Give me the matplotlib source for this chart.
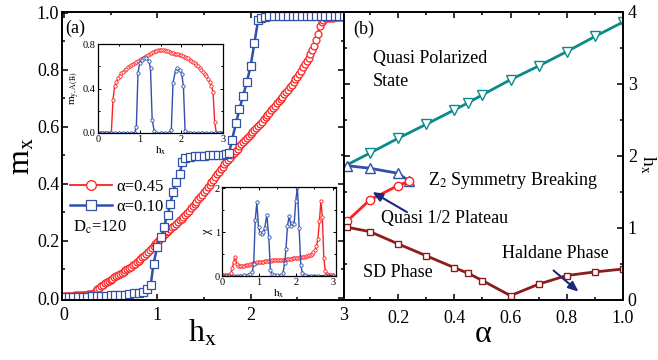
import numpy as np
import matplotlib
matplotlib.use("Agg")
import matplotlib.pyplot as plt
from matplotlib.ticker import MultipleLocator, FormatStrFormatter

plt.rcParams['font.family'] = ['Liberation Serif', 'DejaVu Serif']
plt.rcParams['mathtext.fontset'] = 'stix'

# ---------------- data: panel (a) main ----------------
h_red = np.round(np.arange(0, 3.0001, 0.02), 2)
m_red = [0.006, 0.006, 0.007, 0.007, 0.008, 0.008, 0.009, 0.009, 0.010, 0.010, 0.011, 0.011, 0.012, 0.013, 0.014, 0.015,
         0.017, 0.024, 0.031, 0.036, 0.041, 0.046, 0.051, 0.056, 0.060, 0.064,
         0.068, 0.072, 0.076, 0.080, 0.084, 0.088, 0.092, 0.097, 0.101, 0.105,
         0.110, 0.115, 0.120, 0.125, 0.130, 0.136, 0.142, 0.148, 0.154, 0.160,
         0.167, 0.174, 0.181, 0.188, 0.195, 0.202, 0.209, 0.216, 0.223, 0.230,
         0.236, 0.242, 0.248, 0.254, 0.260, 0.266, 0.272, 0.278, 0.284, 0.290,
         0.298, 0.306, 0.314, 0.322, 0.330, 0.338, 0.346, 0.354, 0.362, 0.370,
         0.379, 0.388, 0.397, 0.406, 0.415, 0.424, 0.433, 0.442, 0.451, 0.460,
         0.468, 0.476, 0.484, 0.492, 0.500, 0.508, 0.516, 0.524, 0.532, 0.540,
         0.547, 0.554, 0.561, 0.568, 0.575, 0.582, 0.589, 0.596, 0.603, 0.610,
         0.618, 0.626, 0.634, 0.642, 0.650, 0.658, 0.666, 0.674, 0.682, 0.690,
         0.698, 0.706, 0.714, 0.722, 0.730, 0.739, 0.748, 0.757, 0.766, 0.775,
         0.786, 0.797, 0.808, 0.819, 0.830, 0.842, 0.854, 0.868, 0.884, 0.905,
         0.927, 0.952, 0.968, 0.976, 0.980, 0.981, 0.982, 0.983, 0.983, 0.984,
         0.984, 0.985, 0.985, 0.985, 0.986]

h_blue = [0.00, 0.05, 0.10, 0.15, 0.20, 0.25, 0.30, 0.35, 0.40, 0.45, 0.50, 0.55, 0.60, 0.65, 0.70, 0.75, 0.80, 0.85,
          0.89, 0.93, 0.96, 1.00, 1.04, 1.07, 1.11, 1.14, 1.17, 1.20, 1.24, 1.27, 1.30,
          1.35, 1.40, 1.45, 1.50, 1.55, 1.60, 1.65, 1.70, 1.74, 1.77,
          1.80, 1.845, 1.88, 1.92, 1.96, 2.00, 2.04, 2.08, 2.11, 2.15,
          2.20, 2.25, 2.30, 2.35, 2.40, 2.45, 2.50, 2.55, 2.60, 2.65, 2.70, 2.75, 2.80, 2.85, 2.90, 2.95, 3.00]
m_blue = [0.003, 0.003, 0.004, 0.004, 0.005, 0.005, 0.006, 0.006, 0.007, 0.008, 0.009, 0.010, 0.011, 0.012, 0.014, 0.016, 0.019, 0.022,
          0.030, 0.046, 0.120, 0.180, 0.215, 0.250, 0.290, 0.330, 0.373, 0.405, 0.435, 0.478, 0.492,
          0.495, 0.497, 0.498, 0.499, 0.500, 0.501, 0.502, 0.503, 0.504, 0.507,
          0.554, 0.614, 0.662, 0.709, 0.758, 0.813, 0.893, 0.974, 0.983, 0.986,
          0.987, 0.987, 0.988, 0.988, 0.988, 0.989, 0.989, 0.989, 0.989, 0.990, 0.990, 0.990, 0.990, 0.990, 0.990, 0.990, 0.990]

# ---------------- data: insets ----------------
h_ins = np.round(np.arange(0, 3.0001, 0.04), 2)
my_red = [0, 0, 0, 0, 0, 0, 0, 0, 0,
          0.30, 0.42, 0.46, 0.49, 0.515, 0.535, 0.55, 0.565, 0.575, 0.59,
          0.60, 0.61, 0.62, 0.63, 0.64, 0.648, 0.655, 0.665, 0.672, 0.68,
          0.69, 0.70, 0.71, 0.72, 0.728, 0.735, 0.74, 0.745, 0.748, 0.748,
          0.747, 0.745, 0.74, 0.733, 0.727, 0.72, 0.715, 0.712, 0.71, 0.707,
          0.703, 0.698, 0.692, 0.686, 0.678, 0.67, 0.66, 0.65, 0.638, 0.625,
          0.612, 0.598, 0.583, 0.567, 0.55, 0.532, 0.51, 0.487, 0.46, 0.425,
          0.37, 0.10,
          0, 0, 0, 0, 0]

h_my_blue = [0.0, 0.1, 0.2, 0.3, 0.4, 0.5, 0.6, 0.7, 0.8, 0.88, 0.92, 0.96, 1.00, 1.06, 1.11, 1.16, 1.22, 1.26, 1.30, 1.35,
             1.4, 1.5, 1.6, 1.7, 1.76, 1.80, 1.86, 1.90, 1.96, 2.01, 2.05, 2.09,
             2.15, 2.2, 2.3, 2.4, 2.5, 2.6, 2.7, 2.8, 2.9, 3.0]
my_blue = [0, 0, 0, 0, 0, 0, 0, 0, 0, 0.0, 0.05, 0.54, 0.63, 0.66, 0.67, 0.67, 0.65, 0.58, 0.12, 0.015,
           0, 0, 0, 0, 0.03, 0.45, 0.56, 0.58, 0.57, 0.53, 0.42, 0.015,
           0, 0, 0, 0, 0, 0, 0, 0, 0, 0]

chi_red = [0.02, 0.02, 0.02, 0.02, 0.02, 0.03, 0.06, 0.18, 0.33, 0.44,
           0.28, 0.23, 0.22, 0.225, 0.23, 0.235, 0.24, 0.25, 0.26, 0.27,
           0.28, 0.29, 0.30, 0.305, 0.31, 0.315, 0.32, 0.325, 0.33, 0.335,
           0.34, 0.345, 0.35, 0.352, 0.355, 0.36, 0.362, 0.365, 0.368, 0.37,
           0.37, 0.37, 0.372, 0.375, 0.38, 0.385, 0.39, 0.395, 0.40, 0.405,
           0.41, 0.415, 0.42, 0.425, 0.43, 0.435, 0.44, 0.45, 0.46, 0.475,
           0.49, 0.51, 0.54, 0.59, 0.68, 0.85, 1.25, 1.70, 1.35, 0.40,
           0.12, 0.05, 0.03, 0.02, 0.02, 0.02]

h_chi_blue = [0.0, 0.1, 0.2, 0.3, 0.4, 0.5, 0.6, 0.7, 0.77, 0.82, 0.86,
              0.90, 0.945, 0.99, 1.035, 1.08, 1.12, 1.16, 1.215, 1.27, 1.31, 1.35,
              1.4, 1.5, 1.6, 1.65, 1.70, 1.735, 1.775, 1.82, 1.87, 1.91, 1.955, 2.0, 2.045, 2.09, 2.135, 2.18,
              2.25, 2.4, 2.6, 2.8, 3.0]
chi_blue = [0.01, 0.01, 0.01, 0.01, 0.01, 0.01, 0.015, 0.02, 0.04, 0.1, 0.27,
            1.27, 1.68, 1.11, 0.97, 0.96, 1.0, 1.1, 1.39, 0.88, 0.14, 0.04,
            0.02, 0.015, 0.02, 0.06, 0.3, 0.62, 1.15, 1.36, 1.15, 1.22, 1.18, 1.72, 2.03, 1.1, 0.25, 0.06,
            0.02, 0.01, 0.01, 0.01, 0.01]

# ---------------- data: panel (b) ----------------
alpha_qp = [0.02, 0.1, 0.2, 0.3, 0.4, 0.45, 0.5, 0.6, 0.7, 0.8, 0.9, 1.0]
h_qp = [1.88, 2.04, 2.245, 2.44, 2.64, 2.74, 2.85, 3.06, 3.25, 3.45, 3.66, 3.86]
alpha_z2 = [0.02, 0.1, 0.2, 0.24]
h_z2_up = [1.865, 1.83, 1.76, 1.65]
h_z2_lo = [1.10, 1.39, 1.59, 1.65]
alpha_sd = [0.02, 0.1, 0.2, 0.3, 0.4, 0.45, 0.5, 0.6, 0.7, 0.8, 0.9, 1.0]
h_sd = [1.01, 0.95, 0.78, 0.615, 0.45, 0.37, 0.27, 0.06, 0.22, 0.34, 0.39, 0.43]

RED = '#ff2020'
BLUE = '#3050aa'
TEAL = '#0a8a8a'
MAROON = '#8e1b1b'
NAVY = '#1c2880'

fig = plt.figure(figsize=(6.58, 3.6), dpi=100)
W, H = 658.0, 360.0
ax1 = fig.add_axes([62 / W, 60 / H, 282 / W, 288 / H])
ax2 = fig.add_axes([344 / W, 60 / H, 279 / W, 288 / H])
ins1 = fig.add_axes([98 / W, (H - 133) / H, 125 / W, 89 / H])
ins2 = fig.add_axes([222 / W, (H - 276) / H, 114 / W, 89 / H])


def style(ax, lw=1.4, size=13, maj=4.5, mino=2.5, pad=2):
    for s in ax.spines.values():
        s.set_linewidth(lw)
    ax.tick_params(which='both', direction='in', top=True, right=True, width=lw * 0.8,
                   labelsize=size, pad=pad)
    ax.tick_params(which='major', length=maj)
    ax.tick_params(which='minor', length=mino)


# ---------------- panel (a) ----------------
ax1.plot(h_red, m_red, '-', color=RED, lw=1.3, marker='o', ms=5, mfc='white', mec=RED, mew=0.9,
         label='α=0.45')
ax1.plot(h_blue, m_blue, '-', color=BLUE, lw=1.8, marker='s', ms=5.3, mfc='white', mec=BLUE, mew=0.9,
         label='α=0.10')
ax1.set_xlim(-0.02, 3.0)
ax1.set_ylim(-0.007, 1.0025)
ax1.xaxis.set_major_locator(MultipleLocator(1))
ax1.xaxis.set_minor_locator(MultipleLocator(0.5))
ax1.yaxis.set_major_locator(MultipleLocator(0.2))
ax1.yaxis.set_minor_locator(MultipleLocator(0.1))
ax1.yaxis.set_major_formatter(FormatStrFormatter('%.1f'))
style(ax1)
ax1.tick_params(axis='x', pad=5)
ax1.set_xlabel(r'h$_{\rm x}$', fontsize=23, labelpad=-4)
ax1.set_ylabel(r'm$_{\rm x}$', fontsize=23, labelpad=0)
ax1.text(0.015, 0.945, '(a)', fontsize=13, va='center', ha='left')
leg = ax1.legend(loc='upper left', bbox_to_anchor=(0.03, 0.42), frameon=False, fontsize=12,
                 handlelength=2.5, handletextpad=0.25, labelspacing=0.25, borderpad=0,
                 borderaxespad=0, markerscale=1.4)
ax1.text(0.10, 0.249, r'D$_{\rm c}$=120', fontsize=12, va='center', ha='left')

# inset 1: m_y
ins1.plot(h_ins, my_red, '-', color=RED, lw=1.0, marker='o', ms=2.4, mfc='white', mec=RED, mew=0.6)
ins1.plot(h_my_blue, my_blue, '-', color=BLUE, lw=1.0, marker='o', ms=2.4, mfc='white', mec=BLUE, mew=0.6)
ins1.set_xlim(0, 3)
ins1.set_ylim(0, 0.8)
ins1.set_xticks([0, 1, 2, 3])
ins1.xaxis.set_minor_locator(MultipleLocator(0.5))
ins1.set_yticks([0, 0.4, 0.8])
ins1.yaxis.set_minor_locator(MultipleLocator(0.2))
ins1.yaxis.set_major_formatter(FormatStrFormatter('%.1f'))
style(ins1, lw=0.9, size=7.5, maj=2.5, mino=1.5, pad=1.5)
ins1.set_xlabel(r'h$_{\rm x}$', fontsize=8, labelpad=0)
ins1.set_ylabel(r'm$_{\rm y,A(B)}$', fontsize=8, labelpad=1)

# inset 2: chi
ins2.plot(h_ins, chi_red, '-', color=RED, lw=1.0, marker='o', ms=2.4, mfc='white', mec=RED, mew=0.6)
ins2.plot(h_chi_blue, chi_blue, '-', color=BLUE, lw=1.0, marker='o', ms=2.4, mfc='white', mec=BLUE, mew=0.6)
ins2.set_xlim(0, 3.09)
ins2.set_ylim(0, 2.03)
ins2.set_xticks([0, 1, 2, 3])
ins2.xaxis.set_minor_locator(MultipleLocator(0.5))
ins2.set_yticks([0, 1, 2])
ins2.yaxis.set_minor_locator(MultipleLocator(0.5))
style(ins2, lw=0.9, size=7.5, maj=2.5, mino=1.5, pad=1.5)
ins2.set_xlabel(r'h$_{\rm x}$', fontsize=8, labelpad=0)
ins2.set_ylabel('χ', fontsize=9, labelpad=1)

# ---------------- panel (b) ----------------
ax2.plot(alpha_qp, h_qp, '-', color=TEAL, lw=2.0, marker='v', ms=6.5, mfc='white', mec=TEAL, mew=1.0,
         markevery=list(range(1, len(alpha_qp))))
ax2.plot(alpha_z2, h_z2_up, '-', color=BLUE, lw=2.0, marker='^', ms=6.5, mfc='white', mec=BLUE, mew=1.0)
ax2.plot(alpha_z2, h_z2_lo, '-', color=RED, lw=2.0, marker='o', ms=6, mfc='white', mec=RED, mew=1.0)
ax2.plot(alpha_sd, h_sd, '-', color=MAROON, lw=2.0, marker='s', ms=5, mfc='white', mec=MAROON, mew=1.0)
ax2.set_xlim(0.008, 1.0)
ax2.set_ylim(0, 4)
ax2.xaxis.set_major_locator(MultipleLocator(0.2))
ax2.xaxis.set_minor_locator(MultipleLocator(0.1))
ax2.xaxis.set_major_formatter(FormatStrFormatter('%.1f'))
ax2.yaxis.set_major_locator(MultipleLocator(1))
ax2.yaxis.set_minor_locator(MultipleLocator(0.5))
style(ax2)
ax2.tick_params(axis='y', labelleft=False, labelright=True, pad=3.5)
ax2.tick_params(axis='x', pad=7.5)
ax2.set_xlabel('α', fontsize=23, labelpad=-5)
ax2.text(1.09, 0.47, r'h$_{\rm x}$', transform=ax2.transAxes, fontsize=14, rotation=-90,
         ha='center', va='center')

ax2.text(0.04, 3.76, '(b)', fontsize=13, va='center', ha='left')
ax2.text(0.11, 3.35, 'Quasi Polarized', fontsize=13, va='center', ha='left')
ax2.text(0.11, 3.04, 'State', fontsize=13, va='center', ha='left')
ax2.text(0.307, 1.66, r'Z$_2$ Symmetry Breaking', fontsize=13, va='center', ha='left')
ax2.text(0.141, 1.125, 'Quasi 1/2 Plateau', fontsize=13, va='center', ha='left')
ax2.text(0.076, 0.385, 'SD Phase', fontsize=13, va='center', ha='left')
ax2.text(0.571, 0.64, 'Haldane Phase', fontsize=13, va='center', ha='left')

ap = dict(arrowstyle='-|>,head_length=0.6,head_width=0.25', color=NAVY, lw=1.5, shrinkA=0, shrinkB=0)
ax2.annotate('', xy=(0.109, 1.50), xytext=(0.232, 1.22), arrowprops=ap)
ax2.annotate('', xy=(0.842, 0.115), xytext=(0.753, 0.41), arrowprops=ap)

fig.savefig('out.png', dpi=100)
